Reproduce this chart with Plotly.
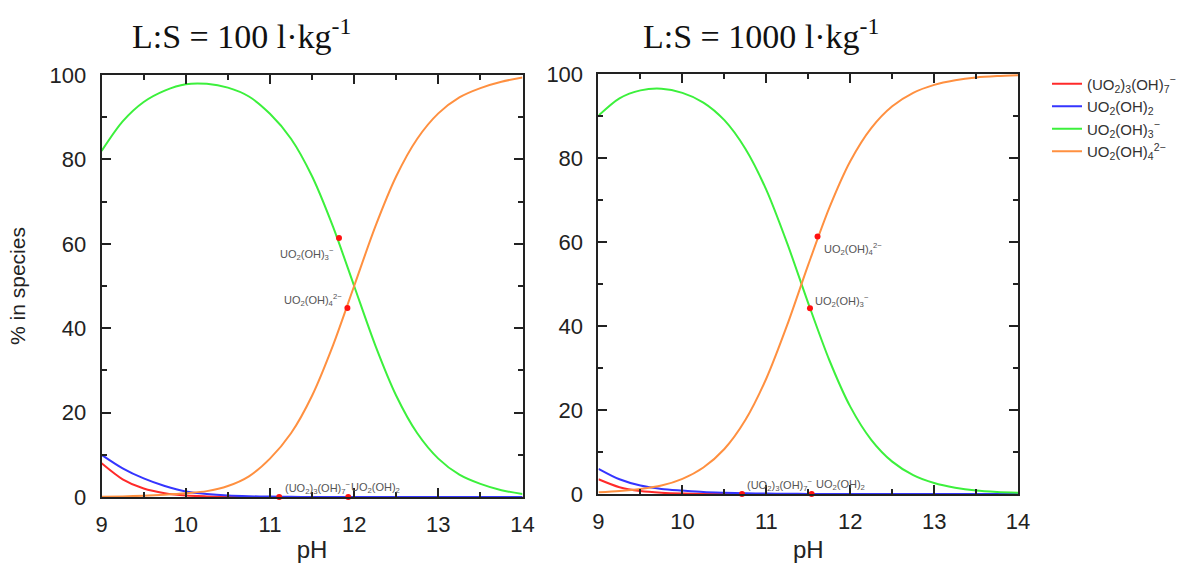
import plotly.graph_objects as go

ph = [9, 9.25, 9.5, 9.75, 10, 10.25, 10.5, 10.75, 11, 11.25, 11.5, 11.75,
      12, 12.25, 12.5, 12.75, 13, 13.25, 13.5, 13.75, 14]

# Left panel: L:S = 100 l/kg
left_red = [8.0, 4.2, 2.0, 0.9, 0.35, 0.15, 0.05, 0.02, 0.01, 0, 0, 0,
            0, 0, 0, 0, 0, 0, 0, 0, 0]
left_blue = [10.0, 6.8, 4.4, 2.6, 1.3, 0.7, 0.35, 0.18, 0.1, 0.05, 0.02, 0.01,
             0, 0, 0, 0, 0, 0, 0, 0, 0]
left_green = [82.0, 89.0, 93.6, 96.3, 97.8, 97.9, 97.0, 94.9, 90.8, 84.9, 76.0, 64.0,
              50.0, 36.0, 24.0, 15.1, 9.1, 5.3, 3.1, 1.6, 0.7]
left_orange = [0.08, 0.15, 0.3, 0.55, 0.9, 1.4, 2.6, 4.9, 9.1, 15.1, 24.0, 36.0,
               50.0, 64.0, 76.0, 84.9, 90.9, 94.7, 96.9, 98.4, 99.4]

# Right panel: L:S = 1000 l/kg
right_red = [3.5, 1.6, 0.7, 0.3, 0.12, 0.05, 0.02, 0.01, 0, 0, 0, 0,
             0, 0, 0, 0, 0, 0, 0, 0, 0]
right_blue = [6.0, 3.5, 2.0, 1.2, 0.8, 0.45, 0.28, 0.16, 0.09, 0.05, 0.02, 0.01,
              0, 0, 0, 0, 0, 0, 0, 0, 0]
right_green = [90.1, 94.2, 96.1, 96.5, 95.5, 93.2, 89.0, 82.2, 72.4, 59.6, 45.4, 31.9,
               20.8, 12.9, 7.7, 4.5, 2.6, 1.5, 0.83, 0.5, 0.3]
right_orange = [0.4, 0.7, 1.2, 2.0, 3.6, 6.3, 10.7, 17.6, 27.5, 40.3, 54.6, 68.1,
                79.2, 87.1, 92.3, 95.5, 97.4, 98.5, 99.17, 99.5, 99.7]

# labelled points (pH, %)
left_pts_x = [11.82, 11.92, 11.11, 11.93]
left_pts_y = [61.4, 44.8, 0.0, 0.0]
right_pts_x = [11.61, 11.52, 10.71, 11.54]
right_pts_y = [61.3, 44.2, 0.0, 0.0]

names = ["(UO<sub>2</sub>)<sub>3</sub>(OH)<sub>7</sub><sup>−</sup>",
         "UO<sub>2</sub>(OH)<sub>2</sub>",
         "UO<sub>2</sub>(OH)<sub>3</sub><sup>−</sup>",
         "UO<sub>2</sub>(OH)<sub>4</sub><sup>2−</sup>"]
colors = ["#ff2a2a", "#3535ff", "#3cf03c", "#ff9040"]

titles = ["L:S = 100 l·kg<sup>-1</sup>", "L:S = 1000 l·kg<sup>-1</sup>"]
x_ticks = [9, 10, 11, 12, 13, 14]
y_ticks = [0, 20, 40, 60, 80, 100]

fig = go.Figure()

left_series = [left_red, left_blue, left_green, left_orange]
right_series = [right_red, right_blue, right_green, right_orange]

for i, ys in enumerate(left_series):
    fig.add_trace(go.Scatter(x=ph, y=ys, mode="lines", name=names[i],
                             line=dict(color=colors[i], width=2, shape="spline", smoothing=0.8),
                             xaxis="x", yaxis="y", showlegend=True))
for i, ys in enumerate(right_series):
    fig.add_trace(go.Scatter(x=ph, y=ys, mode="lines", name=names[i],
                             line=dict(color=colors[i], width=2, shape="spline", smoothing=0.8),
                             xaxis="x2", yaxis="y2", showlegend=False))

fig.add_trace(go.Scatter(x=left_pts_x, y=left_pts_y, mode="markers",
                         marker=dict(color="#ff1010", size=6), xaxis="x", yaxis="y",
                         showlegend=False, cliponaxis=False))
fig.add_trace(go.Scatter(x=right_pts_x, y=right_pts_y, mode="markers",
                         marker=dict(color="#ff1010", size=6), xaxis="x2", yaxis="y2",
                         showlegend=False, cliponaxis=False))

lab_font = dict(family="Liberation Sans, Arial, sans-serif", size=11, color="#555555")
anns = [
    # left panel
    dict(x=11.78, y=57.5, xref="x", yref="y", text=names[2], xanchor="right", yanchor="middle"),
    dict(x=11.88, y=46.8, xref="x", yref="y", text=names[3], xanchor="right", yanchor="middle"),
    dict(x=11.15, y=2.2, xref="x", yref="y", text=names[0], xanchor="left", yanchor="middle"),
    dict(x=11.94, y=2.2, xref="x", yref="y", text=names[1], xanchor="left", yanchor="middle"),
    # right panel
    dict(x=11.66, y=58.3, xref="x2", yref="y2", text=names[3], xanchor="left", yanchor="middle"),
    dict(x=11.56, y=46.0, xref="x2", yref="y2", text=names[2], xanchor="left", yanchor="middle"),
    dict(x=10.75, y=2.2, xref="x2", yref="y2", text=names[0], xanchor="left", yanchor="middle"),
    dict(x=11.57, y=2.2, xref="x2", yref="y2", text=names[1], xanchor="left", yanchor="middle"),
]
for a in anns:
    a.update(showarrow=False, font=lab_font)
    fig.add_annotation(**a)

title_font = dict(family="Liberation Serif, Times New Roman, serif", size=34, color="#111111")
fig.add_annotation(x=0.205, y=0.94, xref="paper", yref="paper", text=titles[0],
                   showarrow=False, font=title_font, xanchor="center", yanchor="middle")
fig.add_annotation(x=0.645, y=0.94, xref="paper", yref="paper", text=titles[1],
                   showarrow=False, font=title_font, xanchor="center", yanchor="middle")

tick_font = dict(family="Liberation Sans, Arial, sans-serif", size=22, color="#222222")
axis_common = dict(showgrid=False, zeroline=False, showline=True, linecolor="#222222",
                   linewidth=2, mirror="ticks", ticks="inside", ticklen=9, tickwidth=2,
                   tickcolor="#222222", tickfont=tick_font, automargin=False)

xax = dict(axis_common, range=[9, 14], tickvals=x_ticks, ticklabelstandoff=7,
           minor=dict(ticks="inside", ticklen=5, tickwidth=1.5, tickcolor="#222222", dtick=0.5),
           title=dict(text="pH", font=dict(family="Liberation Sans, Arial, sans-serif", size=24,
                                            color="#222222"), standoff=8))
yax = dict(axis_common, range=[0, 100], tickvals=y_ticks, ticklabelstandoff=9,
           minor=dict(ticks="inside", ticklen=5, tickwidth=1.5, tickcolor="#222222", dtick=10))

fig.update_layout(
    width=1181, height=563,
    margin=dict(l=0, r=0, t=0, b=0),
    paper_bgcolor="white", plot_bgcolor="white",
    xaxis=dict(xax, domain=[0.0861, 0.4428], anchor="y"),
    yaxis=dict(yax, domain=[0.1172, 0.8668], anchor="x",
               title=dict(text="% in species",
                          font=dict(family="Liberation Sans, Arial, sans-serif", size=21,
                                    color="#222222"), standoff=18)),
    xaxis2=dict(xax, domain=[0.5072, 0.8628], anchor="y2"),
    yaxis2=dict(yax, domain=[0.1226, 0.8686], anchor="x2"),
    legend=dict(x=0.887, y=0.88, xanchor="left", yanchor="top",
                font=dict(family="Liberation Sans, Arial, sans-serif", size=15, color="#333333"),
                bgcolor="rgba(0,0,0,0)", itemwidth=30, tracegroupgap=0),
    showlegend=True,
)

fig.write_html("out.html")
